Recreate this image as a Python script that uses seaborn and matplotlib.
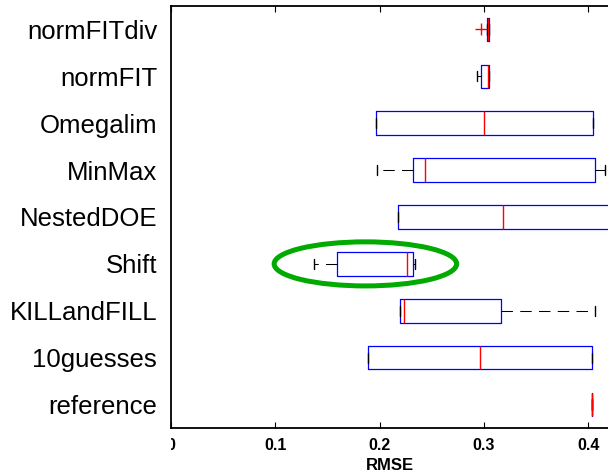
import matplotlib
matplotlib.use("Agg")
import matplotlib.pyplot as plt
import matplotlib.patches as mpatches
from matplotlib.transforms import Bbox
import pandas as pd
import seaborn as sns

# methods, top to bottom as shown on the chart
methods = ["normFITdiv", "normFIT", "Omegalim", "MinMax", "NestedDOE",
           "Shift", "KILLandFILL", "10guesses", "reference"]

# RMSE samples per method (lower whisker, Q1, median, Q3, upper whisker),
# read off the picture; normFITdiv has one outlier below its box
normfitdiv = [0.2970, 0.3030, 0.3040, 0.3049, 0.3050]
normfit = [0.2937, 0.2975, 0.3036, 0.3046, 0.3050]
omegalim = [0.1969, 0.1969, 0.3004, 0.4043, 0.4043]
minmax = [0.1972, 0.2320, 0.2432, 0.4068, 0.4165]
nesteddoe = [0.2173, 0.2173, 0.3186, 0.4300, 0.4300]
shift = [0.1368, 0.1588, 0.2259, 0.2324, 0.2340]
killandfill = [0.2195, 0.2199, 0.2231, 0.3167, 0.4068]
tenguesses = [0.1892, 0.1892, 0.2963, 0.4040, 0.4040]
reference = [0.4040, 0.4040, 0.4040, 0.4040, 0.4040]

samples = [normfitdiv, normfit, omegalim, minmax, nesteddoe,
           shift, killandfill, tenguesses, reference]

x_ticks = [0, 0.1, 0.2, 0.3, 0.4]

rows = []
for name, vals in zip(methods, samples):
    for v in vals:
        rows.append({"method": name, "RMSE": v})
df = pd.DataFrame(rows)

sns.set_style("white")
plt.rcParams["font.family"] = ["Liberation Sans", "DejaVu Sans"]
plt.rcParams["text.color"] = "black"
plt.rcParams["axes.labelcolor"] = "black"

fig = plt.figure(figsize=(6.08, 4.75), dpi=100)
ax = fig.add_axes([171 / 608, 1 - 428 / 475, 438 / 608, 422 / 475])

sns.boxplot(
    data=df, x="RMSE", y="method", order=methods, orient="h",
    fill=False, color="blue", width=0.5, whis=1.5, linewidth=0.9,
    boxprops=dict(color="blue"),
    medianprops=dict(color="red", linewidth=1.0),
    whiskerprops=dict(color="black", linestyle=(0, (11, 7)), linewidth=0.75),
    capprops=dict(color="black", linewidth=1.0),
    flierprops=dict(marker="+", markeredgecolor="red", markersize=8,
                    markeredgewidth=1.0),
    capwidths=0.22,
    ax=ax,
)

ax.set_xlim(0, 0.42)
ax.set_xticks(x_ticks)
ax.set_xticklabels([f"{t:g}" for t in x_ticks], fontsize=11.5, fontweight="bold")
ax.tick_params(axis="x", direction="in", length=4, width=0.8, top=True,
               bottom=True, pad=7, colors="black")
ax.tick_params(axis="y", length=0, pad=10, labelsize=18.5, colors="black")
ax.set_xlabel("RMSE", fontsize=12, fontweight="bold", labelpad=4)
ax.set_ylabel("")

for side in ["left", "bottom", "top"]:
    ax.spines[side].set_color("black")
    ax.spines[side].set_linewidth(1.3)
ax.spines["right"].set_visible(False)

# green highlight around the Shift box
shift_pos = methods.index("Shift")
ring = mpatches.Ellipse(((min(shift) + max(shift)) / 2 + 0.001, shift_pos),
                        width=0.175, height=0.94, fill=False,
                        edgecolor="#00aa00", linewidth=3.6, zorder=5)
ax.add_patch(ring)

# the leftmost "0" is cut off in the original figure
lbl0 = ax.get_xticklabels()[0]
lbl0.set_clip_box(Bbox([[171, 0], [608, 475]]))
lbl0.set_clip_on(True)

fig.savefig("out.png", dpi=100)
